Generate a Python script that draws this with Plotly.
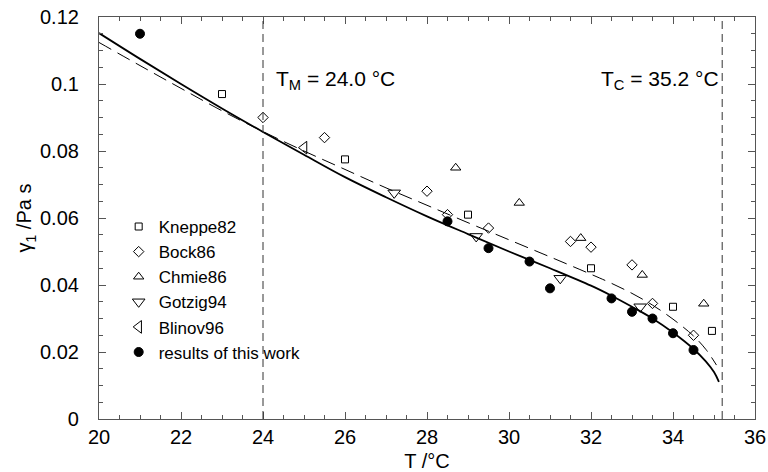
import plotly.graph_objects as go

# ---- data ----
kneppe_T = [23.0, 26.0, 29.0, 32.0, 34.0, 34.95]
kneppe_g = [0.097, 0.0775, 0.061, 0.045, 0.0335, 0.0263]

bock_T = [24.0, 25.5, 28.0, 28.5, 29.5, 31.5, 32.0, 33.0, 33.5, 34.5]
bock_g = [0.090, 0.084, 0.068, 0.061, 0.057, 0.053, 0.0513, 0.046, 0.0345, 0.025]

chmie_T = [28.7, 30.25, 31.75, 33.25, 34.75]
chmie_g = [0.075, 0.0645, 0.054, 0.043, 0.0344]

gotzig_T = [27.2, 29.2, 31.25, 33.2]
gotzig_g = [0.0675, 0.0545, 0.042, 0.0335]

blinov_T = [25.0]
blinov_g = [0.081]

work_T = [21.0, 28.5, 29.5, 30.5, 31.0, 32.5, 33.0, 33.5, 34.0, 34.5]
work_g = [0.115, 0.059, 0.051, 0.047, 0.039, 0.036, 0.032, 0.030, 0.0256, 0.0206]

solid_T = [20, 21, 22, 23, 24, 25, 26, 27, 28, 29, 30, 31, 32, 32.5, 33, 33.5, 34, 34.5, 34.8, 35.0, 35.12]
solid_g = [0.1152, 0.1075, 0.1000, 0.0927, 0.0857, 0.0789, 0.0722, 0.0662, 0.0605, 0.0552, 0.0500,
           0.0450, 0.0398, 0.0368, 0.0335, 0.0300, 0.0258, 0.0209, 0.0172, 0.0140, 0.0111]

dash_T = [20, 21, 22, 23, 24, 25, 26, 27, 28, 29, 30, 31, 32, 32.5, 33, 33.5, 34, 34.5, 34.8, 35.06]
dash_g = [0.1124, 0.1055, 0.0987, 0.0920, 0.0858, 0.0800, 0.0745, 0.0690, 0.0638, 0.0586, 0.0535,
          0.0484, 0.0432, 0.0405, 0.0375, 0.0340, 0.0298, 0.0248, 0.0208, 0.0161]

T_M = 24.0
T_C = 35.2

FONT = "Liberation Sans, Arial, Helvetica, sans-serif"

fig = go.Figure()

fig.add_trace(go.Scatter(x=dash_T, y=dash_g, mode="lines", showlegend=False,
                         line=dict(color="black", width=1, dash="14px,7px", shape="spline"),
                         hoverinfo="skip"))
fig.add_trace(go.Scatter(x=solid_T, y=solid_g, mode="lines", showlegend=False,
                         line=dict(color="black", width=1.8, shape="spline"),
                         hoverinfo="skip"))

def pts(x, y, name, sym, size):
    fig.add_trace(go.Scatter(
        x=x, y=y, mode="markers", name=name,
        marker=dict(symbol=sym, size=size, color="black",
                    line=dict(color="black", width=1))))

pts(kneppe_T, kneppe_g, "Kneppe82", "square-open", 7)
pts(bock_T, bock_g, "Bock86", "diamond-open", 8)
pts(chmie_T, chmie_g, "Chmie86", "triangle-up-open", 9)
pts(gotzig_T, gotzig_g, "Gotzig94", "triangle-down-open", 11)
pts(blinov_T, blinov_g, "Blinov96", "triangle-left-open", 11)
pts(work_T, work_g, "results of this work", "circle", 9)

for xv in (T_M, T_C):
    fig.add_vline(x=xv, line=dict(color="#333", width=1, dash="8px,5px"))

fig.add_annotation(x=T_M, y=0.1013, xref="x", yref="y", xshift=11, xanchor="left", yanchor="middle",
                   text="T<sub>M</sub> = 24.0 °C", showarrow=False,
                   font=dict(family=FONT, size=21, color="black"))
fig.add_annotation(x=T_C, y=0.1013, xref="x", yref="y", xshift=-1, xanchor="right", yanchor="middle",
                   text="T<sub>C</sub> = 35.2 °C", showarrow=False,
                   font=dict(family=FONT, size=21, color="black"))

axis_common = dict(showline=True, linecolor="#555", linewidth=1.2, mirror="allticks",
                   ticks="inside", ticklen=7, tickcolor="#555", tickwidth=1,
                   showgrid=False, zeroline=False, automargin=False,
                   tickfont=dict(family=FONT, size=20, color="black"))

fig.update_xaxes(range=[20, 36], dtick=2, tick0=20,
                 minor=dict(ticks="inside", ticklen=4, dtick=0.5, tickcolor="#555"),
                 title=dict(text="T /°C", font=dict(family=FONT, size=20, color="black"), standoff=7),
                 **axis_common)
fig.update_yaxes(range=[0, 0.12], dtick=0.02, tick0=0,
                 minor=dict(ticks="inside", ticklen=4, dtick=0.005, tickcolor="#555"),
                 ticklabelstandoff=15,
                 title=dict(text="γ<sub>1</sub> /Pa s", font=dict(family=FONT, size=20, color="black"), standoff=2),
                 **axis_common)

fig.update_layout(
    width=768, height=472,
    margin=dict(l=99, r=13, t=17, b=53),
    plot_bgcolor="white", paper_bgcolor="white",
    font=dict(family=FONT, color="black"),
    legend=dict(x=0.03, y=0.5225, xanchor="left", yanchor="top",
                bgcolor="rgba(0,0,0,0)", borderwidth=0,
                font=dict(family=FONT, size=17, color="black"),
                itemwidth=30, tracegroupgap=0),
)

fig.write_html("out.html")
